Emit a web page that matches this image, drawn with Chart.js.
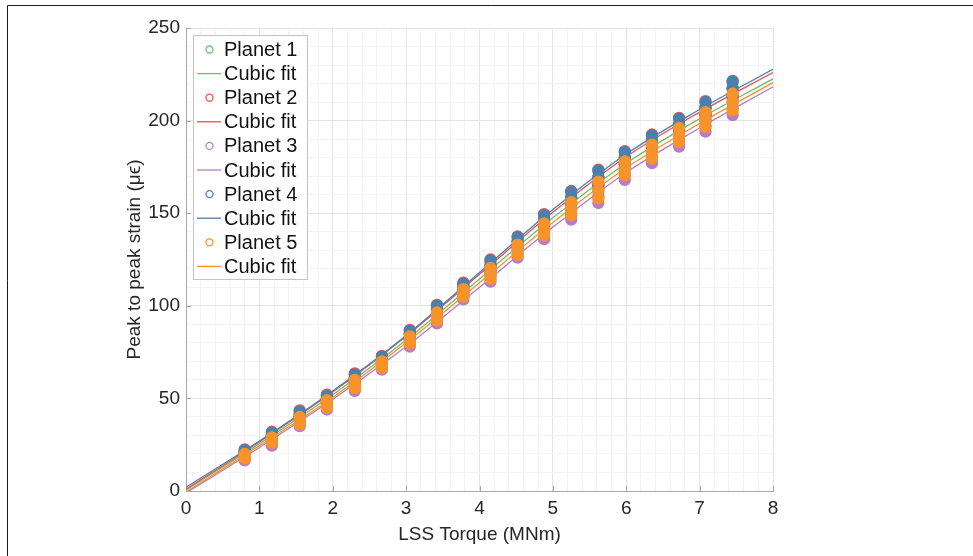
<!DOCTYPE html>
<html lang="en">
<head>
<meta charset="UTF-8">
<title>Peak to peak strain vs LSS torque</title>
<style>
  html, body { margin: 0; padding: 0; background: #fff; }
  .chart-container { position: relative; width: 973px; height: 556px; }
</style>
<script src="https://cdn.jsdelivr.net/npm/chart.js"></script>
</head>
<body>
<div class="chart-container"><canvas id="chart" width="973" height="556"></canvas></div>
<script>
// torque levels (MNm) where the strain readings were taken
const torque = [0.80, 1.17, 1.55, 1.92, 2.30, 2.67, 3.05, 3.42, 3.78, 4.15, 4.52, 4.88, 5.25, 5.62, 5.98, 6.35, 6.72, 7.08, 7.45];

// peak to peak strain readings per torque level (low, mid, high)
const planet1 = [[19,20,21],[27,28.5,30],[38,39.5,41.5],[46.5,48,50],[57,59,61],[68,69.5,71],[81,82.5,85],[94,95.5,98],[106.5,108,110.5],[117,119.5,122],[130,132,135],[140.5,143,146.5],[152,155,158.5],[161.5,165,169.5],[173.5,176.5,180],[182.5,185.5,189],[191.5,194.5,198],[199.5,203,207],[209.5,213,217.5]];
const planet2 = [[20,21,22.5],[28.5,30.5,32],[39.5,41,43.5],[48,50,52],[59,61,63.5],[69.5,71,73],[82.5,84.5,87],[95.5,98,100.5],[108,110,112.5],[119.5,122,125],[132,134.5,137.5],[143,146,149.5],[155,158,162],[165,169,173.5],[176.5,179.5,183.5],[185.5,188.5,192.5],[194.5,197.5,201.5],[203,206.5,210.5],[213,217,221.5]];
const planet3 = [[16.5,18,19],[24.5,26,28],[35,36.5,38.5],[44,45.5,47.5],[54,56,58],[65.5,67,68.5],[78,79.5,82],[90.5,92.5,95],[103.5,105,107.5],[113,115.5,118],[126,128,131],[136,138.5,142],[146.5,149.5,153],[155.5,159,163.5],[168,171,175],[177,180,184],[186,189,193],[194,197,201],[203,206.5,211]];
const planet4 = [[20,21,22],[29,30,31.5],[40,41.5,43],[48.5,50,51.5],[59.5,61,63],[69.5,71,72.5],[83,85,86.5],[96,98,100],[108.5,110.5,112],[120,122,124.5],[132.5,135,137],[144,146.5,149],[155.5,158.5,161.5],[166,169.5,173],[177,180,183],[186,189,192],[195,198,201],[203.5,207,210],[214,217.5,221]];
const planet5 = [[17.5,19,20],[26,27.5,29],[36,38,40],[45,47,49],[55.5,57.5,60],[66.5,68,70],[79.5,81.5,83.5],[92,94.5,96.5],[105,107,109],[114.5,117.5,120.5],[127.5,130.5,133],[138,141,144.5],[149,152.5,156],[158,162.5,167],[170.5,174,178],[179.5,183,187],[188.5,192,196],[196.5,200.5,204.5],[205.5,210,214.5]];

// cubic fit curves read at whole MNm
const fitTorque = [0, 1, 2, 3, 4, 5, 6, 7, 8];
const fit1 = [0.5, 25.5, 52, 81.5, 114.5, 147.5, 177, 201, 222.5];
const fit2 = [1, 26.5, 53.5, 83.5, 117, 150.5, 180.5, 204.5, 225.9];
const fit3 = [-1, 23.5, 49.5, 78, 110, 142.5, 172, 196, 218.3];
const fit4 = [2, 27, 54, 84, 118, 152, 182, 206, 227.7];
const fit5 = [-0.5, 24.5, 50.5, 80, 112.5, 145, 174.5, 198.5, 220.5];

const planetNames = ['Planet 1', 'Planet 2', 'Planet 3', 'Planet 4', 'Planet 5'];
const colors = ['#6dbe6d', '#ee4f4f', '#b87bcb', '#4a80b0', '#f8932a'];

const planets = [planet1, planet2, planet3, planet4, planet5];
const fits = [fit1, fit2, fit3, fit4, fit5];

const datasets = [];
planets.forEach((p, i) => {
  datasets.push({
    label: planetNames[i],
    data: torque.flatMap((t, k) => p[k].map(v => ({x: t, y: v}))),
    borderColor: colors[i],
    backgroundColor: colors[i],
    pointRadius: 5.5,
    borderWidth: 1.3,
    showLine: false,
    order: 20 - 2 * i
  });
  datasets.push({
    label: 'Cubic fit',
    data: fitTorque.map((t, k) => ({x: t, y: fits[i][k]})),
    borderColor: colors[i],
    borderWidth: 1.3,
    pointRadius: 0,
    showLine: true,
    cubicInterpolationMode: 'monotone',
    order: 19 - 2 * i
  });
});

const isMajor = (v, step) => Math.abs(v / step - Math.round(v / step)) < 1e-6;

// outer figure border (top and left edges)
const frame = {
  id: 'frame',
  beforeDraw(chart) {
    const c = chart.ctx;
    c.save();
    c.fillStyle = '#fff';
    c.fillRect(0, 0, chart.width, chart.height);
    c.strokeStyle = '#1a1a1a';
    c.lineWidth = 1;
    c.beginPath();
    c.moveTo(7.5, chart.height);
    c.lineTo(7.5, 5.5);
    c.lineTo(chart.width, 5.5);
    c.stroke();
    c.restore();
  }
};

// small inward tick marks on the major values
const innerTicks = {
  id: 'innerTicks',
  beforeDatasetsDraw(chart) {
    const {ctx, chartArea: a, scales: {x, y}} = chart;
    ctx.save();
    ctx.strokeStyle = '#a8a8a8';
    ctx.lineWidth = 1;
    ctx.beginPath();
    x.ticks.filter(t => isMajor(t.value, 1)).forEach(t => {
      const px = Math.round(x.getPixelForValue(t.value)) + 0.5;
      ctx.moveTo(px, a.bottom);
      ctx.lineTo(px, a.bottom - 5);
    });
    y.ticks.filter(t => isMajor(t.value, 50)).forEach(t => {
      const py = Math.round(y.getPixelForValue(t.value)) + 0.5;
      ctx.moveTo(a.left, py);
      ctx.lineTo(a.left + 5, py);
    });
    ctx.stroke();
    ctx.restore();
  }
};

// boxed legend in the top-left corner of the axes
const boxLegend = {
  id: 'boxLegend',
  afterDraw(chart) {
    const ctx = chart.ctx;
    ctx.save();
    ctx.fillStyle = '#fff';
    ctx.fillRect(193.5, 35.5, 114, 244);
    ctx.strokeStyle = '#c4c4c4';
    ctx.lineWidth = 1;
    ctx.strokeRect(193.5, 35.5, 114, 244);
    ctx.font = '20px "Liberation Sans", Arial, sans-serif';
    ctx.textBaseline = 'middle';
    chart.data.datasets.forEach((ds, i) => {
      const yy = 49.5 + i * 24.1;
      ctx.strokeStyle = ds.borderColor;
      ctx.lineWidth = 1.3;
      ctx.beginPath();
      if (ds.showLine) {
        ctx.moveTo(197, yy);
        ctx.lineTo(221, yy);
      } else {
        ctx.arc(209.5, yy, 3.5, 0, Math.PI * 2);
      }
      ctx.stroke();
      ctx.fillStyle = '#111';
      ctx.fillText(ds.label, 224, yy + 1);
    });
    ctx.restore();
  }
};

Chart.defaults.font.family = '"Liberation Sans", Arial, Helvetica, sans-serif';
Chart.defaults.color = '#262626';

new Chart(document.getElementById('chart'), {
  type: 'scatter',
  data: { datasets },
  options: {
    responsive: false,
    animation: false,
    layout: { padding: { left: 100, top: 28, right: 200, bottom: 0 } },
    plugins: {
      legend: { display: false },
      tooltip: { enabled: false }
    },
    scales: {
      x: {
        type: 'linear',
        min: 0,
        max: 8,
        afterFit: s => { s.height = 65; },
        border: { color: '#a8a8a8' },
        grid: {
          drawTicks: false,
          color: ctx => isMajor(ctx.tick.value, 1) ? '#e4e4e4' : '#f3f3f3'
        },
        ticks: {
          stepSize: 0.2,
          autoSkip: false,
          maxRotation: 0,
          padding: 6,
          font: { size: 19 },
          callback: v => isMajor(v, 1) ? Math.round(v) : ''
        },
        title: {
          display: true,
          text: 'LSS Torque (MNm)',
          font: { size: 19 },
          padding: { top: 0, bottom: 10 }
        }
      },
      y: {
        min: 0,
        max: 250,
        afterFit: s => { s.width = 86; },
        border: { color: '#a8a8a8' },
        grid: {
          drawTicks: false,
          color: ctx => isMajor(ctx.tick.value, 50) ? '#e4e4e4' : '#f3f3f3'
        },
        ticks: {
          stepSize: 10,
          autoSkip: false,
          padding: 6,
          font: { size: 19 },
          callback: v => isMajor(v, 50) ? Math.round(v) : ''
        },
        title: {
          display: true,
          text: 'Peak to peak strain (μϵ)',
          font: { size: 19 },
          padding: { top: 23, bottom: 0 }
        }
      }
    }
  },
  plugins: [frame, innerTicks, boxLegend]
});
</script>
</body>
</html>
